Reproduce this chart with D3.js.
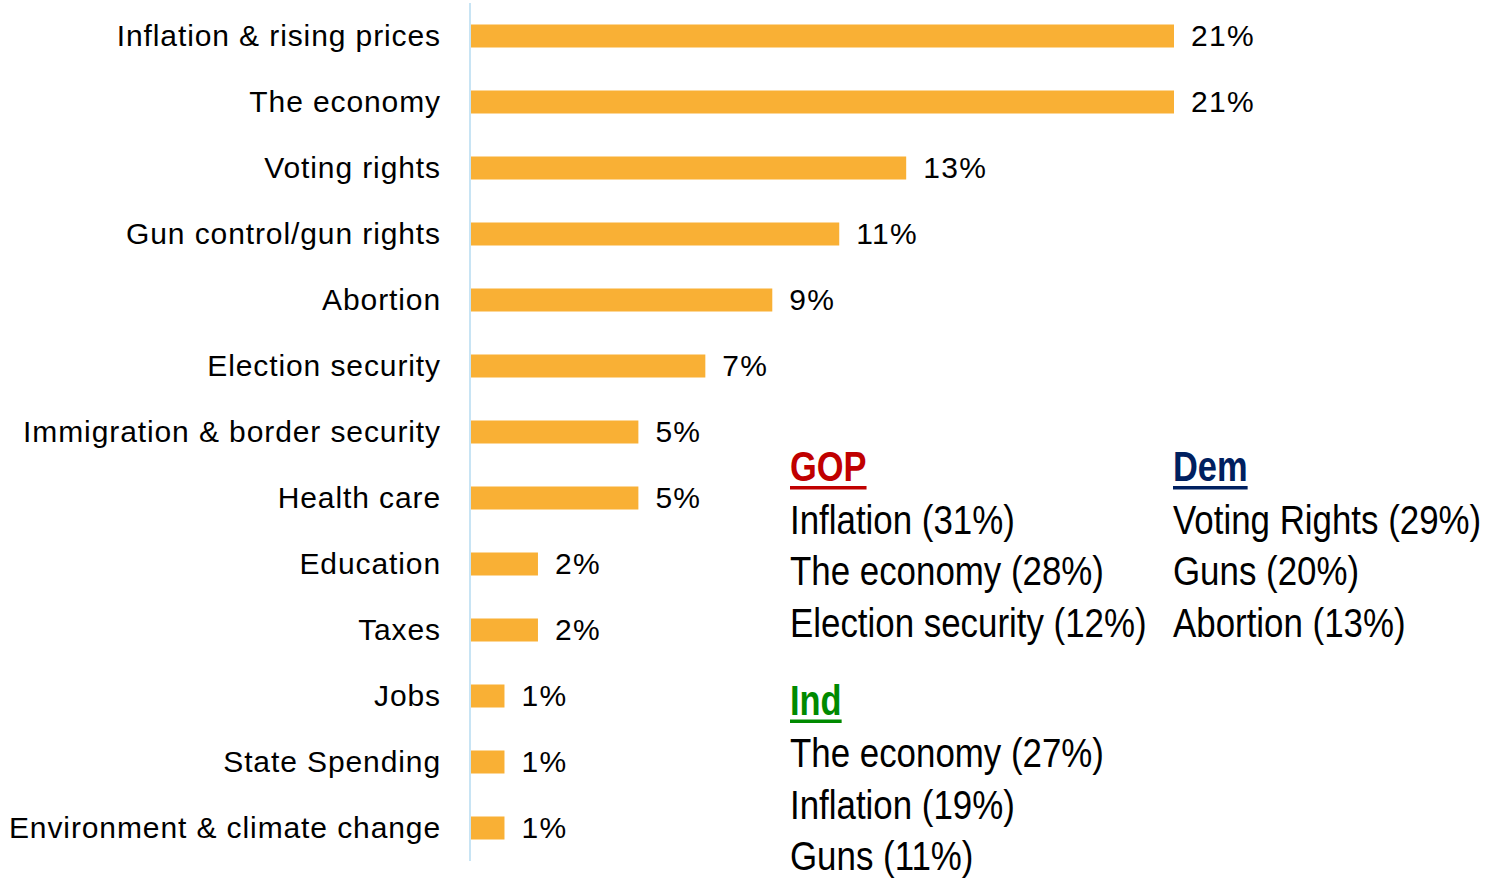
<!DOCTYPE html>
<html>
<head>
<meta charset="utf-8">
<script src="https://cdn.jsdelivr.net/npm/d3@7"></script>
<style>
  html, body { margin: 0; padding: 0; background: #fff; }
  svg { display: block; }
</style>
</head>
<body>
<svg id="chart" width="1486" height="880"></svg>
<script>
const categories = [
  "Inflation & rising prices", "The economy", "Voting rights", "Gun control/gun rights",
  "Abortion", "Election security", "Immigration & border security", "Health care",
  "Education", "Taxes", "Jobs", "State Spending", "Environment & climate change"
];
const values = [21, 21, 13, 11, 9, 7, 5, 5, 2, 2, 1, 1, 1];
const valueLabels = ["21%", "21%", "13%", "11%", "9%", "7%", "5%", "5%", "2%", "2%", "1%", "1%", "1%"];

const gopTitle = "GOP";
const gopItems = ["Inflation (31%)", "The economy (28%)", "Election security (12%)"];
const demTitle = "Dem";
const demItems = ["Voting Rights (29%)", "Guns (20%)", "Abortion (13%)"];
const indTitle = "Ind";
const indItems = ["The economy (27%)", "Inflation (19%)", "Guns (11%)"];

const svg = d3.select("#chart");
const x0 = 471;
const x = d3.scaleLinear().domain([0, 21]).range([x0, 1174]);
const y = d3.scaleBand().domain(categories).range([3, 861]).padding(0);
const barH = 23;

// bars
svg.append("g").selectAll("rect").data(categories).join("rect")
  .attr("x", x(0))
  .attr("y", (d) => y(d) + (y.bandwidth() - barH) / 2)
  .attr("width", (d, i) => x(values[i]) - x(0))
  .attr("height", barH)
  .attr("fill", "#f9b035");

// axis line
svg.append("line")
  .attr("x1", 470).attr("x2", 470)
  .attr("y1", y.range()[0]).attr("y2", y.range()[1])
  .attr("stroke", "#c8e4f4").attr("stroke-width", 2);

// category labels
svg.append("g").selectAll("text").data(categories).join("text")
  .attr("x", 441)
  .attr("y", (d) => y(d) + y.bandwidth() / 2 + 9.5)
  .attr("text-anchor", "end")
  .attr("font-family", "'Liberation Sans', Arial, sans-serif")
  .attr("font-size", 30)
  .attr("letter-spacing", "0.9px")
  .attr("fill", "#000")
  .text((d) => d);

// value labels
svg.append("g").selectAll("text").data(categories).join("text")
  .attr("x", (d, i) => x(values[i]) + 17)
  .attr("y", (d) => y(d) + y.bandwidth() / 2 + 10)
  .attr("font-family", "'Liberation Sans', Arial, sans-serif")
  .attr("font-size", 30)
  .attr("letter-spacing", "1.3px")
  .attr("fill", "#000")
  .text((d, i) => valueLabels[i]);

// annotation blocks (condensed via horizontal scaling)
function block(xPos, yBase, title, color, items) {
  const g = svg.append("g").attr("transform", `translate(${xPos},0)`);
  const tg = g.append("g").attr("transform", "scale(0.82,1)");
  const t = tg.append("text")
    .attr("x", 0).attr("y", yBase)
    .attr("font-family", "'Liberation Sans', Arial, sans-serif")
    .attr("font-weight", "bold")
    .attr("font-size", 42)
    .attr("fill", color)
    .text(title);
  const w = t.node().getComputedTextLength();
  tg.append("rect")
    .attr("x", 0).attr("y", yBase + 4.5)
    .attr("width", w).attr("height", 3.5)
    .attr("fill", color);
  const ig = g.append("g").attr("transform", "scale(0.872,1)");
  ig.selectAll("text").data(items).join("text")
    .attr("x", 0)
    .attr("y", (d, i) => yBase + 52.5 + i * 51.5)
    .attr("font-family", "'Liberation Sans', Arial, sans-serif")
    .attr("font-size", 40)
    .attr("fill", "#000")
    .text((d) => d);
}
block(790, 481.5, gopTitle, "#c00000", gopItems);
block(1173, 481.5, demTitle, "#002060", demItems);
block(790, 715, indTitle, "#008a00", indItems);
</script>
</body>
</html>
